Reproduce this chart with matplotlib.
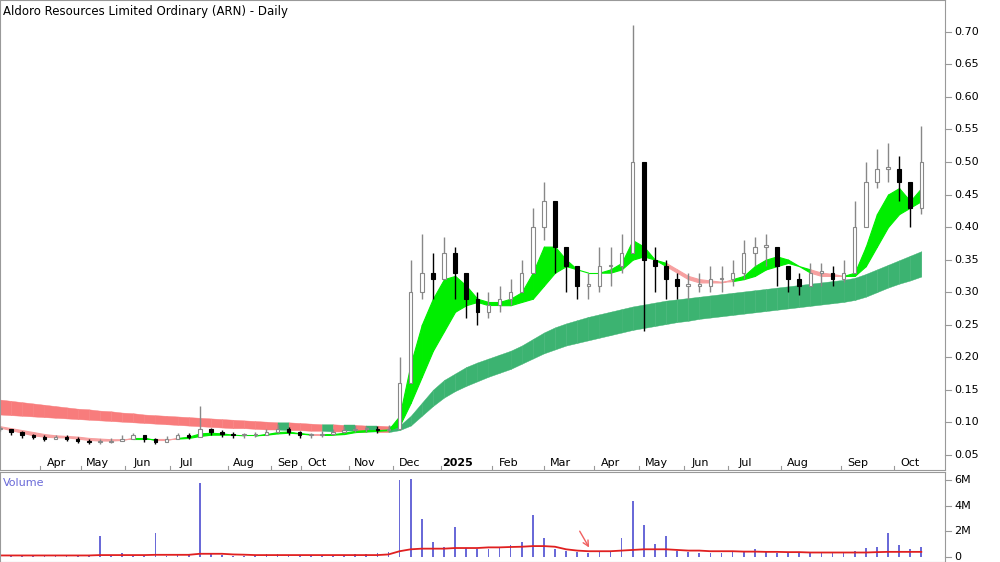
import matplotlib
matplotlib.use("Agg")
import matplotlib.pyplot as plt
import numpy as np

close = [0.090,0.085,0.080,0.078,0.075,0.078,0.075,0.072,0.070,0.070,0.072,0.075,0.080,0.075,0.070,
         0.075,0.080,0.078,0.090,0.085,0.082,0.080,0.080,0.080,0.085,0.090,0.085,0.080,0.080,0.082,
         0.085,0.088,0.090,0.090,0.088,0.090,0.160,0.300,0.330,0.320,0.360,0.330,0.290,0.270,0.280,
         0.290,0.300,0.330,0.400,0.440,0.370,0.340,0.310,0.310,0.340,0.340,0.360,0.500,0.350,0.340,
         0.320,0.310,0.310,0.310,0.320,0.320,0.330,0.360,0.370,0.370,0.340,0.320,0.310,0.330,0.330,
         0.320,0.330,0.400,0.470,0.490,0.490,0.470,0.430,0.500]
high = [0.095,0.090,0.086,0.082,0.080,0.081,0.080,0.077,0.074,0.074,0.076,0.080,0.084,0.081,0.076,
        0.079,0.084,0.083,0.125,0.092,0.088,0.085,0.084,0.085,0.090,0.098,0.093,0.086,0.084,0.086,
        0.090,0.094,0.096,0.095,0.094,0.096,0.200,0.350,0.390,0.360,0.385,0.370,0.330,0.300,0.300,
        0.310,0.320,0.350,0.430,0.470,0.420,0.370,0.340,0.330,0.370,0.370,0.390,0.710,0.380,0.370,
        0.350,0.330,0.330,0.330,0.340,0.340,0.350,0.380,0.385,0.390,0.370,0.340,0.330,0.345,0.345,
        0.340,0.350,0.440,0.500,0.520,0.530,0.510,0.470,0.555]
low = [0.086,0.080,0.076,0.074,0.072,0.074,0.071,0.068,0.066,0.066,0.068,0.071,0.075,0.070,0.066,
       0.070,0.075,0.074,0.080,0.080,0.078,0.076,0.076,0.077,0.080,0.084,0.080,0.076,0.076,0.078,
       0.080,0.083,0.085,0.085,0.084,0.086,0.090,0.200,0.290,0.290,0.320,0.290,0.260,0.250,0.260,
       0.270,0.280,0.300,0.330,0.380,0.330,0.300,0.290,0.290,0.300,0.310,0.330,0.380,0.240,0.300,
       0.290,0.290,0.290,0.300,0.300,0.300,0.310,0.320,0.340,0.340,0.310,0.300,0.295,0.310,0.310,
       0.310,0.315,0.330,0.400,0.460,0.470,0.440,0.400,0.420]

fast = [0.092,0.088,0.084,0.080,0.078,0.077,0.077,0.075,0.073,0.072,0.072,0.073,0.076,0.076,0.073,
        0.073,0.076,0.078,0.083,0.084,0.083,0.081,0.080,0.080,0.082,0.085,0.086,0.083,0.081,0.081,
        0.082,0.084,0.087,0.088,0.088,0.089,
        0.110,0.190,0.250,0.290,0.320,0.325,0.310,0.290,0.285,0.285,0.290,0.300,0.330,0.370,0.370,
        0.350,0.335,0.330,0.330,0.335,0.345,0.380,0.370,0.350,0.340,0.330,0.320,0.315,0.315,0.315,
        0.320,0.325,0.340,0.350,0.355,0.350,0.340,0.330,0.325,0.325,0.325,0.330,0.370,0.420,0.450,
        0.460,0.440,0.460]
slow = [0.094,0.091,0.088,0.085,0.082,0.080,0.079,0.078,0.076,0.075,0.074,0.074,0.075,0.075,0.074,
        0.074,0.075,0.076,0.079,0.081,0.081,0.081,0.080,0.080,0.081,0.083,0.084,0.083,0.082,0.081,
        0.081,0.082,0.085,0.086,0.087,0.088,
        0.095,0.130,0.170,0.210,0.240,0.270,0.280,0.285,0.280,0.280,0.280,0.285,0.290,0.310,0.330,
        0.340,0.335,0.330,0.330,0.330,0.335,0.350,0.355,0.350,0.345,0.335,0.325,0.320,0.318,0.316,
        0.317,0.320,0.325,0.335,0.340,0.345,0.340,0.335,0.330,0.328,0.325,0.325,0.340,0.370,0.400,
        0.420,0.430,0.440]

long_up = [0.135,0.133,0.131,0.129,0.127,0.125,0.123,0.121,0.120,0.118,0.117,0.115,0.114,0.112,0.111,
           0.110,0.109,0.108,0.107,0.106,0.105,0.104,0.103,0.102,0.101,0.100,0.100,0.099,0.098,0.097,
           0.097,0.096,0.096,0.095,0.095,0.094,
           0.095,0.110,0.130,0.150,0.165,0.175,0.185,0.192,0.198,0.204,0.210,0.218,0.228,0.238,0.246,
           0.252,0.257,0.262,0.266,0.270,0.274,0.278,0.281,0.284,0.287,0.289,0.291,0.293,0.295,0.297,
           0.299,0.301,0.303,0.305,0.307,0.309,0.311,0.313,0.315,0.317,0.319,0.322,0.328,0.335,0.342,
           0.349,0.356,0.363]
long_lo = [0.112,0.111,0.110,0.109,0.108,0.107,0.106,0.105,0.104,0.103,0.102,0.101,0.100,0.099,0.098,
           0.097,0.096,0.095,0.094,0.093,0.092,0.091,0.091,0.090,0.089,0.089,0.088,0.088,0.087,0.087,
           0.086,0.086,0.086,0.085,0.085,0.085,
           0.088,0.095,0.110,0.125,0.138,0.148,0.156,0.163,0.170,0.176,0.182,0.190,0.198,0.206,0.212,
           0.218,0.222,0.226,0.230,0.234,0.238,0.242,0.245,0.248,0.251,0.254,0.256,0.259,0.261,0.263,
           0.265,0.267,0.269,0.271,0.273,0.275,0.277,0.279,0.281,0.283,0.285,0.288,0.293,0.300,0.307,
           0.313,0.318,0.324]

volume = [0.15,0.1,0.1,0.12,0.1,0.1,0.1,0.12,0.1,1.6,0.1,0.3,0.1,0.1,1.9,
          0.1,0.15,0.2,5.8,0.2,0.15,0.1,0.1,0.15,0.2,0.2,0.1,0.1,0.15,0.1,
          0.1,0.15,0.2,0.2,0.3,0.4,6.0,6.1,3.0,1.2,0.8,2.3,0.7,0.6,0.6,
          0.8,0.9,1.2,3.3,1.5,0.6,0.5,0.4,0.3,0.4,0.5,1.5,4.4,2.5,1.0,
          1.6,0.5,0.4,0.3,0.3,0.3,0.4,0.5,0.6,0.4,0.3,0.3,0.3,0.3,0.3,
          0.3,0.4,0.5,0.7,0.8,1.9,0.9,0.6,0.8]
vol_avg = [0.12,0.12,0.12,0.12,0.12,0.12,0.12,0.12,0.12,0.15,0.15,0.15,0.15,0.15,0.17,
           0.17,0.17,0.17,0.25,0.25,0.25,0.2,0.18,0.15,0.15,0.15,0.15,0.15,0.15,0.15,
           0.15,0.15,0.15,0.15,0.15,0.2,0.45,0.6,0.65,0.65,0.65,0.7,0.7,0.7,0.75,
           0.75,0.78,0.8,0.85,0.85,0.8,0.6,0.5,0.45,0.45,0.45,0.5,0.55,0.6,0.6,
           0.6,0.55,0.5,0.5,0.45,0.45,0.45,0.42,0.42,0.4,0.4,0.38,0.38,0.35,0.35,
           0.35,0.35,0.35,0.35,0.38,0.4,0.4,0.4,0.4]

month_labels = ["Apr","May","Jun","Jul","Aug","Sep","Oct","Nov","Dec","2025","Feb","Mar","Apr","May",
                "Jun","Jul","Aug","Sep","Oct"]
# label centres in bar-index units
month_pos = [5.1,8.8,12.8,16.8,22.0,25.9,28.6,32.9,36.9,41.2,45.8,50.5,55.0,59.1,63.1,67.1,71.9,77.3,82.0]
price_ticks = [0.05,0.10,0.15,0.20,0.25,0.30,0.35,0.40,0.45,0.50,0.55,0.60,0.65,0.70]

x = np.arange(len(close))
fig = plt.figure(figsize=(10, 5.62), dpi=100)
ax = fig.add_axes([0, 0.164, 0.945, 0.836])
axv = fig.add_axes([0, 0.0, 0.945, 0.16])

for i in range(len(x) - 1):
    col = "#f87c7c" if long_up[i+1] < long_up[i] else "#3cb371"
    ax.fill_between(x[i:i+2], long_lo[i:i+2], long_up[i:i+2], color=col, lw=0.3, ec=col)
for i in range(len(x) - 1):
    f = fast[i:i+2]; s = slow[i:i+2]
    if f[0] >= s[0]:
        col = "#00ee00"
    elif s[0] - f[0] > 0.006:
        col = "#ff6a10"
    else:
        col = "#f7a0a0"
    ax.fill_between(x[i:i+2], s, f, color=col, lw=0.8, ec=col)

w = 0.32
opens = [close[0]] + close[:-1]
for i in range(len(x)):
    up = close[i] >= opens[i]
    ax.vlines(x[i], low[i], high[i], color="#888888" if up else "black", lw=1.0, zorder=3)
    b0, b1 = sorted([opens[i], close[i]])
    if b1 - b0 < 0.002:
        b1 = b0 + 0.002
    ax.add_patch(plt.Rectangle((x[i] - w/2, b0), w, b1 - b0, fc="white" if up else "black",
                               ec="#888888" if up else "black", lw=0.8, zorder=4))

xmax = 945 / 11.1
ax.set_xlim(0, xmax)
axv.set_xlim(0, xmax)
ax.set_ylim(0.027, 0.749)

for a in (ax, axv):
    a.set_xticks([]); a.set_yticks([])
    for sp in a.spines.values():
        sp.set_color("#999999"); sp.set_linewidth(0.8)

for t in price_ticks:
    ax.text(1.01, t, f"{t:.2f}", transform=ax.get_yaxis_transform(), fontsize=8, va="center", ha="left", clip_on=False)
    ax.plot([1.0, 1.006], [t, t], transform=ax.get_yaxis_transform(), color="#999999", lw=0.8, clip_on=False)

for mp, lab in zip(month_pos, month_labels):
    ax.text(mp, 0.037, lab, fontsize=8, ha="center", va="center",
            fontweight="bold" if lab == "2025" else "normal")
    ax.plot([mp - 1.5, mp - 1.5], [0.027, 0.033], color="#999999", lw=0.8)

ax.text(0.003, 0.99, "Aldoro Resources Limited Ordinary (ARN) - Daily", transform=ax.transAxes,
        fontsize=8.5, ha="left", va="top")

axv.bar(x, volume, width=0.15, color="#6a6ad8")
axv.plot(x, vol_avg, color="#e02020", lw=1.3)
axv.set_ylim(-0.39, 6.62)
axv.text(0.003, 0.93, "Volume", transform=axv.transAxes, fontsize=8, color="#6a6ad8", va="top")
for v, lab in [(0, "0"), (2, "2M"), (4, "4M"), (6, "6M")]:
    axv.text(1.01, v, lab, transform=axv.get_yaxis_transform(), fontsize=8, va="center", ha="left")
    axv.plot([1.0, 1.006], [v, v], transform=axv.get_yaxis_transform(), color="#999999", lw=0.8, clip_on=False)
axv.annotate("", xy=(53.2, 0.55), xytext=(52.1, 2.2),
             arrowprops=dict(arrowstyle="->", color="#f06060", lw=1))

fig.savefig("out.png", dpi=100)
